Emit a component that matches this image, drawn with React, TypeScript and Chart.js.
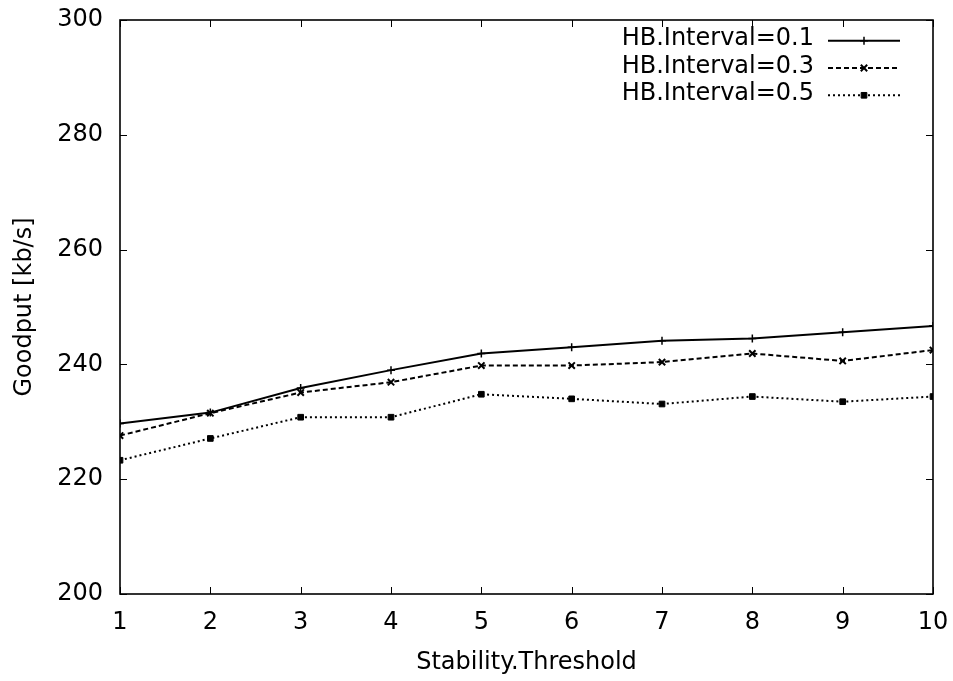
import React, { useEffect, useRef } from "react";
import { Chart, registerables } from "chart.js";

Chart.register(...registerables);

const thresholds = [1, 2, 3, 4, 5, 6, 7, 8, 9, 10];
const hb01 = [229.7, 231.6, 235.9, 239.0, 241.9, 243.0, 244.1, 244.5, 245.6, 246.7];
const hb03 = [227.6, 231.5, 235.1, 236.9, 239.8, 239.8, 240.4, 241.9, 240.6, 242.5];
const hb05 = [223.3, 227.1, 230.8, 230.8, 234.8, 234.0, 233.1, 234.4, 233.5, 234.4];
const seriesLabels = ["HB.Interval=0.1", "HB.Interval=0.3", "HB.Interval=0.5"];
const yTicks = [200, 220, 240, 260, 280, 300];
const xTitle = "Stability.Threshold";
const yTitle = "Goodput [kb/s]";

const FONT = "DejaVu Sans";
const FS = 24;

const frameAndLegend = {
  id: "frameAndLegend",
  afterDraw(chart: any) {
    const ctx = chart.ctx;
    const { left, right, top, bottom } = chart.chartArea;
    const xs = chart.scales.x;
    const ys = chart.scales.y;
    ctx.save();
    ctx.strokeStyle = "#000";
    ctx.lineWidth = 1.6;
    ctx.setLineDash([]);
    ctx.strokeRect(left, top, right - left, bottom - top);
    const tl = 7;
    ctx.lineWidth = 1;
    ctx.beginPath();
    xs.ticks.forEach((t: any) => {
      const px = Math.round(xs.getPixelForValue(t.value)) + 0.5;
      ctx.moveTo(px, bottom);
      ctx.lineTo(px, bottom - tl);
      ctx.moveTo(px, top);
      ctx.lineTo(px, top + tl);
    });
    ys.ticks.forEach((t: any) => {
      const py = Math.round(ys.getPixelForValue(t.value)) + 0.5;
      ctx.moveTo(left, py);
      ctx.lineTo(left + tl, py);
      ctx.moveTo(right, py);
      ctx.lineTo(right - tl, py);
    });
    ctx.stroke();

    // legend
    const textX = 814;
    const lx0 = 828;
    const lx1 = 900;
    const rowY = [40.7, 68, 95.3];
    ctx.font = `${FS}px '${FONT}'`;
    ctx.fillStyle = "#000";
    ctx.textAlign = "right";
    ctx.textBaseline = "alphabetic";
    chart.data.datasets.forEach((ds: any, i: number) => {
      const y = rowY[i];
      ctx.fillText(ds.label, textX, y + 4.5);
      ctx.save();
      ctx.strokeStyle = "#000";
      ctx.lineWidth = ds.borderWidth;
      ctx.setLineDash(ds.borderDash || []);
      ctx.beginPath();
      ctx.moveTo(lx0, y);
      ctx.lineTo(lx1, y);
      ctx.stroke();
      ctx.restore();
      ctx.save();
      const cx = (lx0 + lx1) / 2;
      ctx.strokeStyle = "#000";
      ctx.fillStyle = "#000";
      ctx.lineWidth = ds.pointBorderWidth;
      const r = ds.pointRadius;
      ctx.beginPath();
      if (ds.pointStyle === "cross") {
        ctx.moveTo(cx - r, y); ctx.lineTo(cx + r, y);
        ctx.moveTo(cx, y - r); ctx.lineTo(cx, y + r);
        ctx.stroke();
      } else if (ds.pointStyle === "crossRot") {
        const d = r * Math.SQRT1_2;
        ctx.moveTo(cx - d, y - d); ctx.lineTo(cx + d, y + d);
        ctx.moveTo(cx - d, y + d); ctx.lineTo(cx + d, y - d);
        ctx.stroke();
      } else {
        const s = r * Math.SQRT1_2;
        ctx.rect(cx - s, y - s, 2 * s, 2 * s);
        ctx.fill();
        ctx.stroke();
      }
      ctx.restore();
    });
    ctx.restore();
  },
};

export default function App() {
  const ref = useRef<HTMLCanvasElement | null>(null);
  useEffect(() => {
    if (!ref.current) return;
    Chart.defaults.font.family = FONT;
    Chart.defaults.font.size = FS;
    Chart.defaults.color = "#000";
    const mk = (v: number[]) => thresholds.map((x, i) => ({ x, y: v[i] }));
    const chart = new Chart(ref.current, {
      type: "line",
      data: {
        datasets: [
          {
            label: seriesLabels[0],
            data: mk(hb01),
            borderColor: "#000",
            backgroundColor: "#000",
            borderWidth: 2,
            borderDash: [],
            pointStyle: "cross",
            pointRadius: 4,
            pointBorderWidth: 1.5,
            pointBorderColor: "#000",
            pointBackgroundColor: "#000",
          },
          {
            label: seriesLabels[1],
            data: mk(hb03),
            borderColor: "#000",
            backgroundColor: "#000",
            borderWidth: 2,
            borderDash: [5, 3],
            pointStyle: "crossRot",
            pointRadius: 4.5,
            pointBorderWidth: 2,
            pointBorderColor: "#000",
            pointBackgroundColor: "#000",
          },
          {
            label: seriesLabels[2],
            data: mk(hb05),
            borderColor: "#000",
            backgroundColor: "#000",
            borderWidth: 2,
            borderDash: [2, 3],
            pointStyle: "rect",
            pointRadius: 4,
            pointBorderWidth: 1,
            pointBorderColor: "#000",
            pointBackgroundColor: "#000",
          },
        ] as any,
      },
      options: {
        animation: false,
        responsive: true,
        maintainAspectRatio: false,
        layout: { padding: { top: 20, right: 20, left: 0, bottom: 0 } },
        plugins: { legend: { display: false }, tooltip: { enabled: false } },
        elements: { line: { tension: 0 } },
        scales: {
          x: {
            type: "linear",
            min: 1,
            max: 10,
            ticks: { stepSize: 1, padding: 14, font: { family: FONT, size: FS } },
            grid: { display: false, drawTicks: false },
            border: { display: false },
            title: { display: true, text: xTitle, padding: { top: 0, bottom: 4 }, font: { family: FONT, size: FS } },
            afterFit: (s: any) => { s.height = 87; s.paddingLeft = 0; s.paddingRight = 0; },
          },
          y: {
            type: "linear",
            min: 200,
            max: 300,
            afterBuildTicks: (s: any) => { s.ticks = yTicks.map((v) => ({ value: v })); },
            ticks: { padding: 17, font: { family: FONT, size: FS } },
            grid: { display: false, drawTicks: false },
            border: { display: false },
            title: { display: true, text: yTitle, padding: { top: 10, bottom: 0 }, font: { family: FONT, size: FS } },
            afterFit: (s: any) => { s.width = 120; s.paddingTop = 0; s.paddingBottom = 0; },
          },
        },
      } as any,
      plugins: [frameAndLegend],
    });
    return () => chart.destroy();
  }, []);
  return (
    <div style={{ position: "absolute", left: 0, top: 0, width: 953, height: 681, background: "#fff" }}>
      <canvas ref={ref} />
    </div>
  );
}
